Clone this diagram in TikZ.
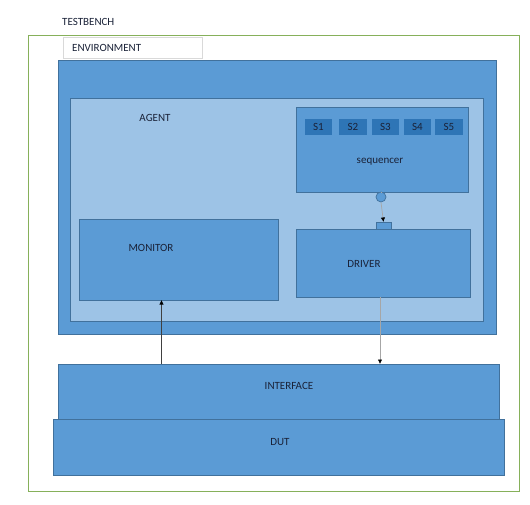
\documentclass[tikz,border=0pt]{standalone}
\usepackage{fontspec}
\setmainfont{Carlito}
\usetikzlibrary{arrows.meta}
\definecolor{blk}{HTML}{5B9BD5}
\definecolor{blkline}{HTML}{41719C}
\definecolor{agentfill}{HTML}{9DC3E6}
\definecolor{seqitem}{HTML}{2E75B6}
\definecolor{tbgreen}{HTML}{86B05A}
\definecolor{envline}{HTML}{D9D9D9}
\definecolor{txt}{HTML}{1A2238}
\definecolor{wire}{HTML}{A6A6A6}
\tikzset{
  box/.style={draw=blkline, fill=blk, line width=0.8pt, inner sep=0pt, outer sep=0pt, anchor=north west},
  agentbox/.style={box, fill=agentfill},
  itembox/.style={box, draw=none, fill=seqitem},
  lbl/.style={text=txt, font=\fontsize{11}{13}\selectfont, inner sep=0pt},
  conn/.style={line width=0.7pt, -{Latex[length=4.5pt,width=4.5pt,black]}},
}
\begin{document}
\begin{tikzpicture}[x=1pt,y=-1pt]
\useasboundingbox (0,0) rectangle (530,505);
% testbench frame
\node[draw=tbgreen, line width=0.9pt, inner sep=0pt, anchor=north west,
      minimum width=491pt, minimum height=456pt] (tb) at (28,35) {};
\node[lbl, anchor=west] (tbl) at (62,22) {TESTBENCH};
% environment
\node[draw=envline, fill=white, line width=0.8pt, inner sep=0pt, anchor=north west,
      minimum width=139pt, minimum height=21pt] (envl) at (63,37) {};
\node[lbl, anchor=west] (envt) at (72,47.5) {ENVIRONMENT};
\node[box, minimum width=438pt, minimum height=274pt] (env) at (58,60) {};
% agent
\node[agentbox, minimum width=413pt, minimum height=223pt] (agent) at (70,98) {};
\node[lbl] (agentt) at (155,118) {AGENT};
% sequencer with its sequence items
\node[box, minimum width=172pt, minimum height=85pt] (seq) at (296,107) {};
\node[lbl] (seqt) at (380,162) {sequencer};
\node[itembox, minimum width=27pt, minimum height=16pt] (s1) at (305,119) {};
\node[itembox, minimum width=28pt, minimum height=16pt] (s2) at (339,119) {};
\node[itembox, minimum width=27pt, minimum height=16pt] (s3) at (372,119) {};
\node[itembox, minimum width=27pt, minimum height=16pt] (s4) at (404,119) {};
\node[itembox, minimum width=28pt, minimum height=16pt] (s5) at (435,119) {};
\foreach \s/\t in {s1/S1,s2/S2,s3/S3,s4/S4,s5/S5}
  \node[lbl] at (\s.center) {\t};
% monitor and driver
\node[box, minimum width=199pt, minimum height=81pt] (mon) at (79,219) {};
\node[lbl] (mont) at (151,248) {MONITOR};
\node[box, minimum width=174pt, minimum height=68pt] (drv) at (296,229) {};
\node[lbl] (drvt) at (364,264) {DRIVER};
% sequencer port and driver export
\node[draw=blkline, fill=blk, line width=0.7pt, circle, minimum size=10pt, inner sep=0pt] (port) at (381,197) {};
\node[box, minimum width=15pt, minimum height=7pt] (exp) at (376,222) {};
\draw[wire, line width=0.7pt] (seq.south -| port) -- (port.north);
\draw[conn, draw=wire] (port.south) -- (exp.north);
% interface and DUT
\node[box, minimum width=441pt, minimum height=57pt] (intf) at (58,364) {};
\node[lbl] (intft) at (289,386) {INTERFACE};
\node[box, minimum width=451pt, minimum height=56pt] (dut) at (53,419) {};
\node[lbl] (dutt) at (280,442) {DUT};
% connections to the interface
\coordinate (mx) at (161.5,0);
\coordinate (dx) at (380,0);
\draw[conn, draw=black!75] (intf.north -| mx) -- (mon.south -| mx);
\draw[conn, draw=wire] (drv.south -| dx) -- (intf.north -| dx);
\end{tikzpicture}
\end{document}
